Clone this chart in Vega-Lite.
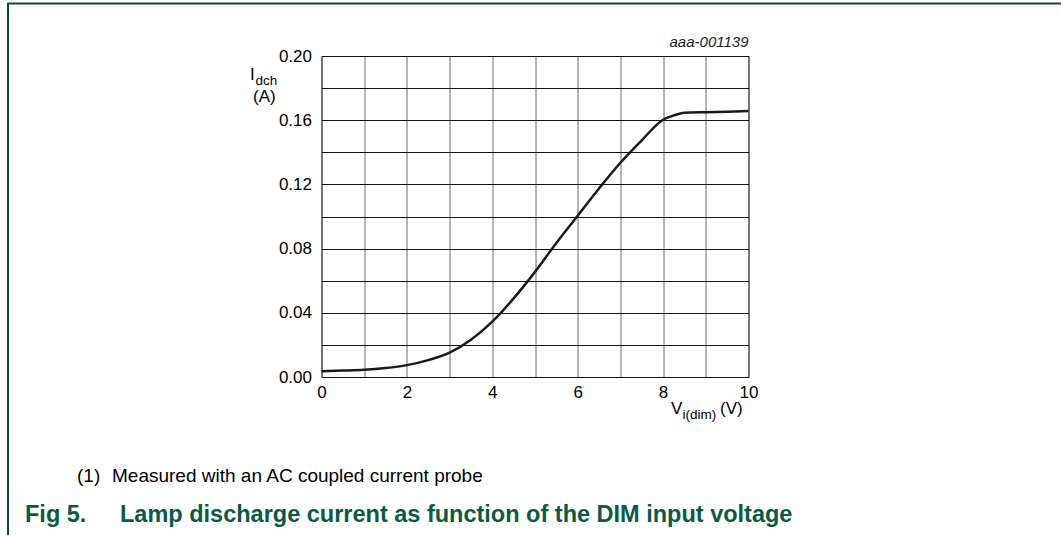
{
  "$schema": "https://vega.github.io/schema/vega-lite/v6.json",
  "width": 427,
  "height": 321,
  "autosize": "none",
  "padding": {"left": 321.5, "top": 56, "right": 312.5, "bottom": 158},
  "background": "white",
  "config": {
    "font": "Liberation Sans",
    "view": {"stroke": "#000000", "strokeWidth": 1}
  },
  "datasets": {
    "curve": [
      {"x": 0, "y": 0.0036}, {"x": 0.5, "y": 0.0040}, {"x": 1, "y": 0.0045},
      {"x": 1.5, "y": 0.0056}, {"x": 2, "y": 0.0074}, {"x": 2.5, "y": 0.0105},
      {"x": 3, "y": 0.0152}, {"x": 3.5, "y": 0.0232}, {"x": 4, "y": 0.0345},
      {"x": 4.5, "y": 0.049}, {"x": 5, "y": 0.0655}, {"x": 5.5, "y": 0.0835},
      {"x": 6, "y": 0.1005}, {"x": 6.5, "y": 0.1175}, {"x": 7, "y": 0.1335},
      {"x": 7.5, "y": 0.1475}, {"x": 8, "y": 0.1603}, {"x": 8.25, "y": 0.1630},
      {"x": 8.5, "y": 0.1646}, {"x": 9, "y": 0.1650}, {"x": 9.5, "y": 0.1653},
      {"x": 10, "y": 0.1657}
    ],
    "frame": [
      {"kind": "v", "x": -7.342, "y": 0.2330, "y2": -0.0984},
      {"kind": "h", "x": -7.365, "x2": 17.32, "y": 0.2327}
    ],
    "notes": [
      {"kind": "main", "text": "I", "x": -1.674, "y": 0.185},
      {"kind": "sub", "text": "dch", "x": -1.545, "y": 0.1822},
      {"kind": "main", "text": "(A)", "x": -1.604, "y": 0.1713},
      {"kind": "main", "text": "V", "x": 8.185, "y": -0.0231},
      {"kind": "sub", "text": "i(dim)", "x": 8.454, "y": -0.0259},
      {"kind": "main", "text": "(V)", "x": 9.333, "y": -0.0231},
      {"kind": "code", "text": "aaa-001139", "x": 10, "y": 0.2053},
      {"kind": "foot", "text": "(1)", "x": -5.726, "y": -0.0654},
      {"kind": "foot", "text": "Measured with an AC coupled current probe", "x": -4.906, "y": -0.0654},
      {"kind": "fig", "text": "Fig 5.", "x": -6.944, "y": -0.0902},
      {"kind": "fig", "text": "Lamp discharge current as function of the DIM input voltage", "x": -4.719, "y": -0.0902}
    ]
  },
  "encoding": {
    "x": {
      "field": "x",
      "type": "quantitative",
      "scale": {"domain": [0, 10], "nice": false, "zero": false},
      "axis": {
        "title": null,
        "values": [0, 1, 2, 3, 4, 5, 6, 7, 8, 9, 10],
        "labelExpr": "datum.value % 2 == 0 ? datum.label : ''",
        "format": "d",
        "domain": false,
        "ticks": false,
        "tickSize": 0,
        "labelFlush": false,
        "labelPadding": 7,
        "labelFontSize": 17,
        "labelColor": "#000000",
        "labelFont": "Liberation Sans",
        "grid": true,
        "gridColor": "#6a6a6a",
        "gridOpacity": 1,
        "gridWidth": 1
      }
    },
    "y": {
      "field": "y",
      "type": "quantitative",
      "scale": {"domain": [0, 0.2], "nice": false, "zero": false},
      "axis": {
        "title": null,
        "values": [0, 0.02, 0.04, 0.06, 0.08, 0.1, 0.12, 0.14, 0.16, 0.18, 0.2],
        "format": ".2f",
        "labelExpr": "round(datum.value * 100) % 4 == 0 ? datum.label : ''",
        "domain": false,
        "ticks": false,
        "tickSize": 0,
        "labelFlush": false,
        "labelPadding": 10,
        "labelFontSize": 17,
        "labelColor": "#000000",
        "labelFont": "Liberation Sans",
        "grid": true,
        "gridColor": "#111111",
        "gridOpacity": 1,
        "gridWidth": 1
      }
    }
  },
  "layer": [
    {
      "data": {"name": "curve"},
      "mark": {"type": "line", "color": "#1a1a1a", "strokeWidth": 2.5, "interpolate": "monotone", "clip": false}
    },
    {
      "data": {"name": "frame"},
      "transform": [{"filter": "datum.kind == 'v'"}],
      "mark": {"type": "rule", "color": "#0b4d3c", "strokeWidth": 2},
      "encoding": {"y2": {"field": "y2"}}
    },
    {
      "data": {"name": "frame"},
      "transform": [{"filter": "datum.kind == 'h'"}],
      "mark": {"type": "rule", "color": "#0b4d3c", "strokeWidth": 2},
      "encoding": {"x2": {"field": "x2"}}
    },
    {
      "data": {"name": "notes"},
      "transform": [{"filter": "datum.kind == 'main'"}],
      "mark": {"type": "text", "align": "left", "baseline": "alphabetic", "fontSize": 17, "color": "#000000", "font": "Liberation Sans"},
      "encoding": {"text": {"field": "text"}}
    },
    {
      "data": {"name": "notes"},
      "transform": [{"filter": "datum.kind == 'sub'"}],
      "mark": {"type": "text", "align": "left", "baseline": "alphabetic", "fontSize": 13.5, "color": "#000000", "font": "Liberation Sans"},
      "encoding": {"text": {"field": "text"}}
    },
    {
      "data": {"name": "notes"},
      "transform": [{"filter": "datum.kind == 'code'"}],
      "mark": {"type": "text", "align": "right", "baseline": "alphabetic", "fontSize": 15, "fontStyle": "italic", "color": "#222222", "font": "Liberation Sans"},
      "encoding": {"text": {"field": "text"}}
    },
    {
      "data": {"name": "notes"},
      "transform": [{"filter": "datum.kind == 'foot'"}],
      "mark": {"type": "text", "align": "left", "baseline": "alphabetic", "fontSize": 19, "color": "#000000", "font": "Liberation Sans"},
      "encoding": {"text": {"field": "text"}}
    },
    {
      "data": {"name": "notes"},
      "transform": [{"filter": "datum.kind == 'fig'"}],
      "mark": {"type": "text", "align": "left", "baseline": "alphabetic", "fontSize": 23.5, "fontWeight": "bold", "color": "#0a5a44", "font": "Liberation Sans"},
      "encoding": {"text": {"field": "text"}}
    }
  ]
}
